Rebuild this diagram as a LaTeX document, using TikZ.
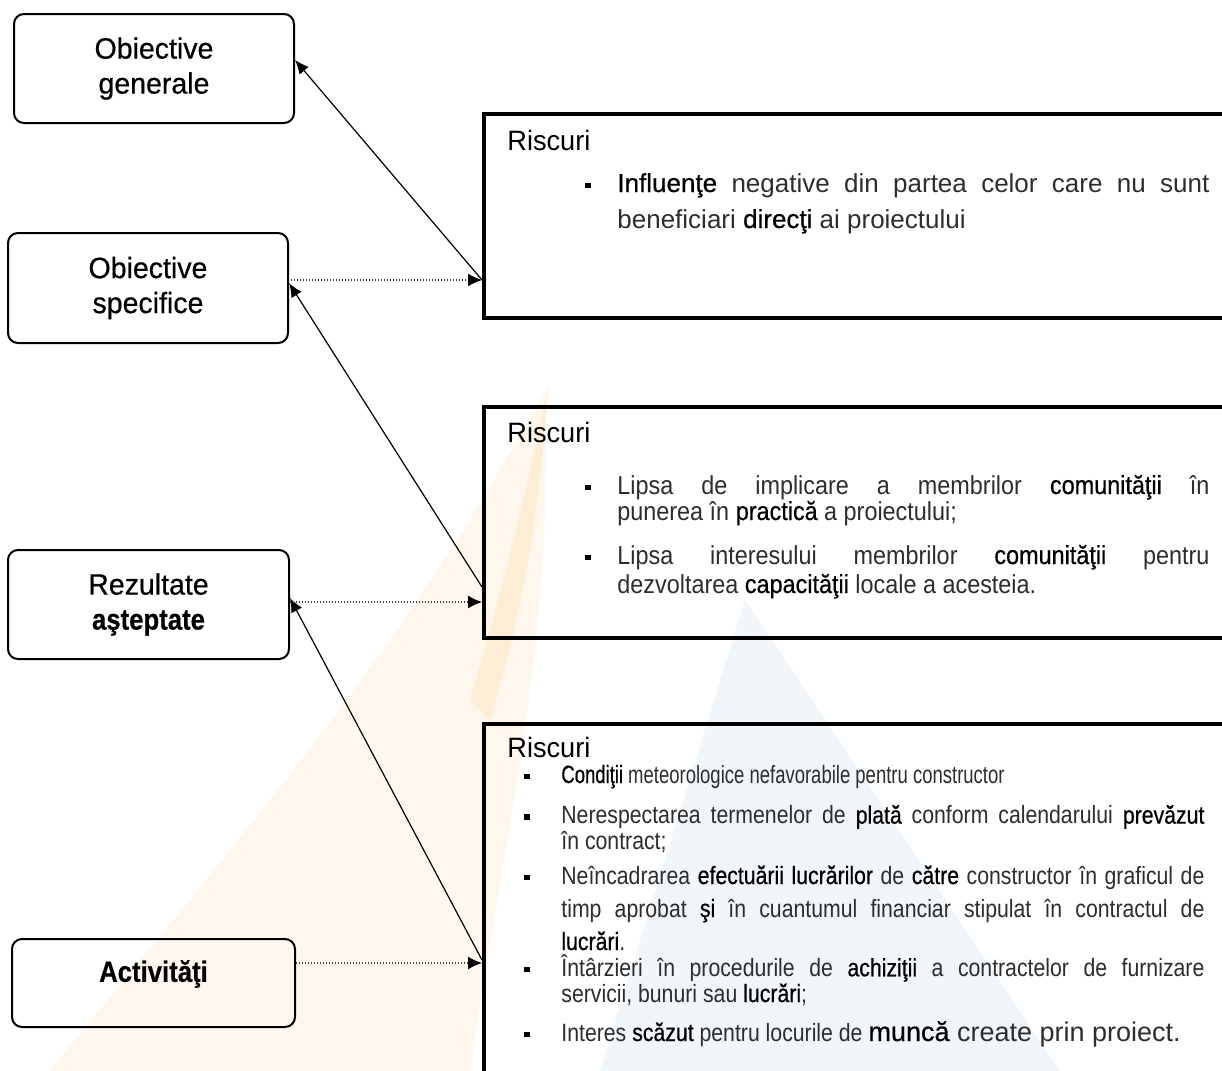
\documentclass[tikz,border=0pt]{standalone}
\usepackage{fontspec}
\setmainfont{Liberation Sans}
\newfontfamily\labelfont[FakeStretch=0.97,FakeBold=0.5,BoldFeatures={FakeStretch=0.875}]{Liberation Sans}
\newfontfamily\headfont[FakeStretch=0.97]{Liberation Sans}
\newfontfamily\midfont[FakeStretch=0.9]{Liberation Sans}
\newfontfamily\narrowfont[FakeStretch=0.85]{Liberation Sans}
\newfontfamily\condfont[FakeStretch=0.74]{Liberation Sans}
\usetikzlibrary{positioning,calc,arrows.meta}
\definecolor{txtgray}{RGB}{45,45,45}
\definecolor{wmpeach}{RGB}{254,247,238}
\definecolor{wmorange}{RGB}{253,237,212}
\definecolor{wmblue}{RGB}{241,246,251}
\tikzset{
  goal/.style={rectangle, rounded corners=5pt, draw=black, line width=1pt, align=center,
    inner sep=0pt, minimum width=140pt, font=\labelfont\fontsize{14.7}{17.5}\selectfont},
  riskbox/.style={rectangle, draw=black, line width=2.2pt, anchor=north west,
    minimum width=400pt, inner sep=0pt},
  head/.style={anchor=base west, inner sep=0pt, font=\headfont\fontsize{14}{16}\selectfont},
  item/.style={anchor=base west, inner sep=0pt, align=left, text=txtgray},
  connect/.style={-{Latex[length=7pt,width=6pt]}, line width=0.6pt},
  link/.style={-{Latex[length=7pt,width=6.5pt,color=black]}, line width=0.7pt,
    dash pattern=on 0.6pt off 0.9pt, black!75}
}
\newcommand{\dk}[1]{{\addfontfeature{FakeBold=0.6}\color{black}#1}}
\newcommand{\sq}[1]{\llap{\textcolor{black}{\rule[1.9pt]{2.8pt}{2.8pt}}\hspace{#1}}}

\begin{document}
\begin{tikzpicture}[x=0.5pt,y=-0.5pt]
  \useasboundingbox (0,0) rectangle (1222,1071);
  \clip (0,0) rectangle (1222,1071);
  \fill[white] (0,0) rectangle (1222,1071);

  % faint logo in the background
  \fill[wmpeach] (50,1071) .. controls (220,860) and (400,660) .. (545,390)
    .. controls (555,640) and (500,860) .. (470,1071) -- cycle;
  \fill[wmorange] (548,385) .. controls (540,520) and (520,620) .. (490,720)
    -- (470,700) .. controls (500,600) and (525,500) .. (548,385) -- cycle;
  \fill[wmblue] (600,1071) -- (745,600) -- (1060,1071) -- cycle;

  % left column
  \node[goal, minimum height=54.5pt] (og) at (154,68.5) {Obiective\\generale};
  \node[goal, minimum height=55pt] (os) at (148,288) {Obiective\\specifice};
  \node[goal, minimum height=54.5pt, minimum width=140.5pt] (ra) at (148.5,604.5)
    {Rezultate\\\textbf{aşteptate}};
  \node[goal, minimum height=44pt, minimum width=141.5pt, text depth=12pt] (act) at (153.5,983)
    {\textbf{Activităţi}};

  % risk boxes
  \node[riskbox, minimum height=102pt] (risk1) at (482,112) {};
  \node[riskbox, minimum height=115.5pt] (risk2) at (482,405) {};
  \node[riskbox, minimum height=189pt] (risk3) at (482,722) {};

  \node[head] (h1) at (507,150) {Riscuri};
  \node[head] (h2) at (507,442) {Riscuri};
  \node[head] (h3) at (507,757) {Riscuri};

  % (multi-line items sit on the baseline of their last line)
  \node[item, font=\fontsize{13}{18}\selectfont] (r1a) at (617,228)
    {\sq{13.25pt}\makebox[296pt][s]{\dk{Influenţe} negative din partea celor care nu sunt}\\
     beneficiari \dk{direcţi} ai proiectului};

  \node[item, font=\midfont\fontsize{13}{13}\selectfont] (r2a) at (617,520)
    {\sq{13.25pt}\makebox[296pt][s]{Lipsa de implicare a membrilor \dk{comunităţii} în}\\
     punerea în \dk{practică} a proiectului;};
  \node[item, font=\midfont\fontsize{13}{14.5}\selectfont] (r2b) at (617,593)
    {\sq{13.25pt}\makebox[296pt][s]{Lipsa interesului membrilor \dk{comunităţii} pentru}\\
     dezvoltarea \dk{capacităţii} locale a acesteia.};

  \node[item, font=\condfont\fontsize{12.5}{12}\selectfont] (r3a) at (561,783)
    {\sq{15.75pt}\dk{Condiţii} meteorologice nefavorabile pentru constructor};
  \node[item, font=\narrowfont\fontsize{12.5}{11.5}\selectfont] (r3b) at (561,849)
    {\sq{15.75pt}\makebox[321.5pt][s]{Nerespectarea termenelor de \dk{plată} conform calendarului \dk{prevăzut}}\\
     în contract;};
  \node[item, font=\narrowfont\fontsize{12.5}{16.5}\selectfont] (r3c) at (561,950)
    {\sq{15.75pt}\makebox[321.5pt][s]{Neîncadrarea \dk{efectuării lucrărilor} de \dk{către} constructor în graficul de}\\
     \makebox[321.5pt][s]{timp aprobat \dk{şi} în cuantumul financiar stipulat în contractul de}\\
     \dk{lucrări}.};
  \node[item, font=\narrowfont\fontsize{12.5}{11.5}\selectfont] (r3d) at (561,1002)
    {\sq{15.75pt}\makebox[321.5pt][s]{Întârzieri în procedurile de \dk{achiziţii} a contractelor de furnizare}\\
     servicii, bunuri sau \dk{lucrări};};
  \node[item, font=\narrowfont\fontsize{12.5}{11.5}\selectfont] (r3e) at (561,1041)
    {\sq{15.75pt}Interes \dk{scăzut} pentru locurile de
     {\normalfont\fontsize{13.5}{15}\selectfont\dk{muncă} create prin proiect.}};

  % entry points on the risk boxes
  \coordinate (in1) at ($(os.east -| risk1.west)+(0,-8)$);
  \coordinate (in2) at ($(ra.east -| risk2.west)+(0,-2.5)$);
  \coordinate (in3) at ($(act.east -| risk3.west)+(0,-20)$);

  \path (in1) edge [connect] ($(og.east)+(0,-8.5)$);
  \path ($(in2)+(0,-15)$) edge [connect] ($(os.east)+(0,-5)$);
  \path ($(in3)+(0,-3)$) edge [connect] ($(ra.east)+(0,-6.5)$);

  % dotted links
  \path ($(os.east)+(2,-8)$) edge [link] (in1);
  \path ($(ra.east)+(0,-2.5)$) edge [link] (in2);
  \path ($(act.east)+(0,-20)$) edge [link] (in3);
\end{tikzpicture}
\end{document}
